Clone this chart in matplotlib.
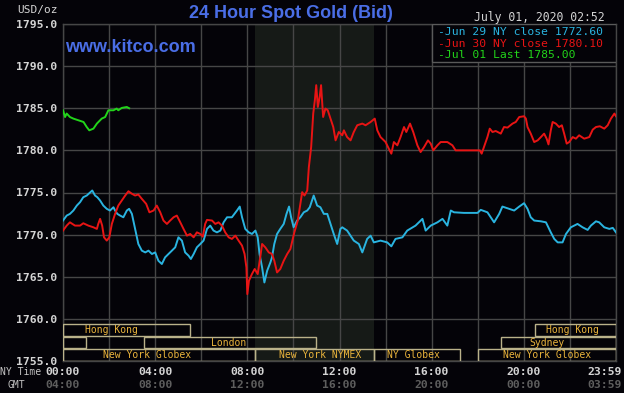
import matplotlib.pyplot as plt
from matplotlib.patches import Rectangle

# price data: (NY hour, USD/oz)
jun29 = [(0.00,1771.67),(0.16,1772.26),(0.30,1772.46),(0.45,1772.86),(0.60,1773.45),(0.74,1773.85),(0.88,1774.44),(1.03,1774.64),(1.27,1775.24),(1.39,1774.64),(1.49,1774.44),(1.61,1774.05),(1.75,1773.45),(1.90,1773.06),(2.04,1772.86),(2.19,1773.25),(2.26,1772.86),(2.36,1772.46),(2.48,1772.26),(2.62,1772.06),(2.77,1772.86),(2.87,1773.06),(2.99,1772.46),(3.13,1770.68),(3.27,1768.89),(3.42,1768.10),(3.57,1767.89),(3.71,1768.10),(3.86,1767.70),(4.00,1767.89),(4.14,1766.90),(4.29,1766.51),(4.43,1767.30),(4.58,1767.70),(4.73,1768.10),(4.87,1768.49),(5.01,1769.68),(5.16,1769.29),(5.30,1767.89),(5.45,1767.50),(5.55,1767.11),(5.67,1767.70),(5.81,1768.49),(5.96,1768.89),(6.10,1769.29),(6.25,1770.68),(6.39,1771.07),(6.53,1770.48),(6.68,1770.27),(6.83,1770.48),(6.97,1771.46),(7.12,1772.06),(7.33,1772.06),(7.55,1772.86),(7.67,1773.33),(7.77,1772.06),(7.91,1770.68),(8.06,1770.27),(8.20,1770.08),(8.35,1770.48),(8.45,1769.68),(8.53,1767.70),(8.64,1766.11),(8.74,1764.32),(8.86,1765.71),(9.00,1766.70),(9.07,1767.30),(9.17,1768.89),(9.29,1770.08),(9.43,1770.68),(9.58,1771.27),(9.70,1772.46),(9.81,1773.33),(9.90,1772.06),(10.01,1770.87),(10.16,1771.67),(10.30,1772.06),(10.45,1772.65),(10.60,1772.86),(10.71,1773.25),(10.88,1774.64),(11.03,1773.45),(11.17,1773.25),(11.32,1772.46),(11.47,1772.46),(11.61,1771.27),(11.75,1770.08),(11.90,1768.89),(12.04,1770.68),(12.12,1770.87),(12.33,1770.48),(12.62,1769.29),(12.84,1768.89),(12.99,1767.89),(13.20,1769.49),(13.35,1769.88),(13.49,1769.08),(13.78,1769.29),(14.07,1769.08),(14.25,1768.61),(14.43,1769.49),(14.73,1769.68),(14.94,1770.48),(15.30,1771.07),(15.60,1771.87),(15.74,1770.48),(15.96,1771.07),(16.25,1771.46),(16.47,1771.87),(16.68,1771.07),(16.83,1772.86),(16.97,1772.65),(17.40,1772.58),(17.99,1772.58),(18.13,1772.94),(18.42,1772.65),(18.71,1771.46),(18.93,1772.46),(19.07,1773.33),(19.36,1773.06),(19.58,1772.86),(19.80,1773.33),(20.01,1773.73),(20.16,1773.06),(20.30,1772.06),(20.45,1771.67),(20.74,1771.58),(20.96,1771.46),(21.17,1770.27),(21.32,1769.49),(21.47,1769.08),(21.68,1769.08),(21.83,1770.08),(22.04,1770.87),(22.33,1771.27),(22.55,1770.87),(22.77,1770.56),(22.91,1771.07),(23.13,1771.58),(23.27,1771.46),(23.49,1770.87),(23.71,1770.68),(23.86,1770.80),(24.00,1770.27)]

jun30 = [(0.00,1770.48),(0.16,1771.07),(0.30,1771.46),(0.52,1771.07),(0.74,1771.07),(0.88,1771.35),(1.10,1771.07),(1.32,1770.87),(1.47,1770.68),(1.53,1771.27),(1.61,1771.87),(1.70,1771.07),(1.78,1769.68),(1.90,1769.29),(2.01,1769.68),(2.12,1771.27),(2.26,1772.46),(2.40,1773.45),(2.55,1774.05),(2.70,1774.64),(2.84,1775.15),(2.99,1774.85),(3.13,1774.64),(3.27,1774.76),(3.42,1774.25),(3.61,1773.65),(3.75,1772.65),(3.93,1772.86),(4.07,1773.45),(4.22,1772.65),(4.36,1771.67),(4.51,1771.27),(4.65,1771.67),(4.80,1772.06),(4.94,1772.26),(5.09,1771.46),(5.23,1770.68),(5.38,1769.88),(5.52,1770.08),(5.67,1769.68),(5.81,1770.27),(5.96,1770.08),(6.07,1769.76),(6.17,1771.27),(6.25,1771.75),(6.47,1771.67),(6.61,1771.27),(6.75,1771.46),(6.90,1771.07),(7.04,1770.27),(7.19,1769.68),(7.33,1769.49),(7.48,1769.88),(7.62,1769.29),(7.77,1768.69),(7.88,1767.70),(7.96,1766.11),(8.00,1762.94),(8.07,1764.52),(8.20,1765.32),(8.32,1765.92),(8.45,1765.32),(8.57,1767.50),(8.64,1768.89),(8.78,1768.49),(8.93,1767.89),(9.07,1767.70),(9.17,1766.90),(9.29,1765.51),(9.43,1765.92),(9.58,1766.90),(9.73,1767.70),(9.87,1768.30),(10.04,1770.27),(10.19,1771.67),(10.30,1773.65),(10.38,1775.04),(10.48,1774.64),(10.60,1775.24),(10.67,1778.01),(10.77,1780.39),(10.86,1784.37),(10.93,1785.95),(10.99,1787.74),(11.06,1785.15),(11.14,1786.35),(11.20,1787.74),(11.29,1783.96),(11.39,1784.96),(11.49,1784.76),(11.61,1783.77),(11.73,1782.77),(11.83,1781.19),(11.97,1782.18),(12.12,1781.79),(12.19,1782.38),(12.33,1781.58),(12.48,1781.19),(12.62,1782.18),(12.77,1782.98),(12.99,1783.18),(13.13,1782.98),(13.35,1783.37),(13.53,1783.77),(13.64,1782.38),(13.78,1781.58),(14.00,1780.99),(14.14,1780.20),(14.25,1779.61),(14.36,1780.99),(14.51,1780.60),(14.65,1781.58),(14.80,1782.77),(14.90,1782.18),(15.06,1783.18),(15.20,1782.18),(15.38,1780.60),(15.52,1779.80),(15.67,1780.39),(15.84,1781.19),(15.96,1780.80),(16.07,1780.00),(16.25,1780.60),(16.39,1780.99),(16.68,1780.99),(16.90,1780.60),(17.04,1780.00),(17.55,1780.00),(18.09,1780.00),(18.17,1779.61),(18.32,1780.80),(18.42,1781.58),(18.52,1782.58),(18.64,1782.18),(18.78,1782.30),(19.00,1781.99),(19.14,1782.77),(19.29,1782.70),(19.51,1783.18),(19.65,1783.37),(19.80,1783.96),(20.01,1784.05),(20.09,1783.77),(20.16,1782.77),(20.30,1781.99),(20.45,1780.99),(20.60,1781.19),(20.74,1781.58),(20.88,1781.99),(20.99,1781.39),(21.07,1780.71),(21.17,1782.38),(21.25,1783.37),(21.39,1783.18),(21.53,1782.77),(21.65,1782.98),(21.75,1781.99),(21.86,1780.80),(21.97,1780.99),(22.12,1781.58),(22.26,1781.39),(22.40,1781.79),(22.62,1781.39),(22.84,1781.58),(22.99,1782.46),(23.13,1782.77),(23.30,1782.86),(23.49,1782.58),(23.64,1782.98),(23.78,1783.77),(23.93,1784.37),(24.00,1784.05)]

jul01 = [(0.00,1784.76),(0.09,1783.96),(0.16,1784.37),(0.30,1783.96),(0.45,1783.77),(0.67,1783.57),(0.89,1783.37),(1.03,1782.77),(1.14,1782.38),(1.32,1782.58),(1.47,1783.18),(1.68,1783.77),(1.83,1783.96),(1.97,1784.76),(2.19,1784.76),(2.33,1784.96),(2.40,1784.76),(2.55,1785.04),(2.77,1785.15),(2.87,1785.00)]

legend_labels = ["-Jun 29 NY close 1772.60", "-Jun 30 NY close 1780.10", "-Jul 01 Last 1785.00"]
series_colors = ["#2ab4e0", "#e81414", "#22d41a"]

y_ticks = [1755, 1760, 1765, 1770, 1775, 1780, 1785, 1790, 1795]
ny_labels = ["00:00", "04:00", "08:00", "12:00", "16:00", "20:00", "23:59"]
gmt_labels = ["04:00", "08:00", "12:00", "16:00", "20:00", "00:00", "03:59"]
label_hours = [0, 4, 8, 12, 16, 20, 23.5]

# trading sessions: (name, row, start, end, label hour)
sessions = [
    ("Hong Kong", 2, 0.0, 5.5, 2.1),
    ("Hong Kong", 2, 20.5, 24.0, 22.1),
    ("", 1, 0.0, 1.0, 0.5),
    ("London", 1, 3.5, 11.0, 7.2),
    ("Sydney", 1, 19.0, 24.0, 21.0),
    ("New York Globex", 0, 0.0, 8.33, 3.65),
    ("New York NYMEX", 0, 8.33, 13.5, 11.15),
    ("NY Globex", 0, 13.5, 17.25, 15.2),
    ("New York Globex", 0, 18.0, 24.0, 21.0),
]
nymex_open, nymex_close = 8.33, 13.5

bg = "#040308"
grid_c = "#464646"
mono = "DejaVu Sans Mono"

fig = plt.figure(figsize=(6.24, 3.93), dpi=100, facecolor=bg)
ax = fig.add_axes([63/624, 32/393, 553/624, 337/393], facecolor=bg)

ax.axvspan(nymex_open, nymex_close, color="#161a17", zorder=0, lw=0)

for pts, c in zip([jun29, jun30, jul01], series_colors):
    h, p = zip(*pts)
    ax.plot(h, p, color=c, lw=1.4, zorder=3)

ax.set_xlim(0, 24)
ax.set_ylim(1755, 1795)
ax.set_xticks(range(0, 25, 2))
ax.set_xticklabels([])
ax.set_yticks(y_ticks)
ax.set_yticklabels([f"{v:.1f}" for v in y_ticks], family=mono, fontsize=8.2,
                   fontweight="bold", color="#d4d4d4")
ax.tick_params(length=0, pad=4)
ax.grid(True, color=grid_c, lw=1)
ax.set_axisbelow(True)
for s in ax.spines.values():
    s.set_color(grid_c)
    s.set_linewidth(1)

# session boxes
row_h = 0.0365
for name, row, x0, x1, lx in sessions:
    ax.add_patch(Rectangle((x0, row * row_h + 0.001), x1 - x0, row_h - 0.002,
                           transform=ax.get_xaxis_transform(), fill=False,
                           edgecolor="#bab28a", lw=1, zorder=4))
    if name:
        ax.text(lx, row * row_h + row_h / 2, name, transform=ax.get_xaxis_transform(),
                ha="center", va="center", family=mono, fontsize=7, color="#eab43c", zorder=5)

# time labels
for hx, ny, gmt in zip(label_hours, ny_labels, gmt_labels):
    ax.text(hx, -0.033, ny, transform=ax.get_xaxis_transform(), ha="center", va="center",
            family=mono, fontsize=8.2, fontweight="bold", color="#d4d4d4")
    ax.text(hx, -0.071, gmt, transform=ax.get_xaxis_transform(), ha="center", va="center",
            family=mono, fontsize=8.2, fontweight="bold", color="#5e5e5e")
fig.text(0.0, 1 - 372/393, "NY Time", family=mono, fontsize=7, color="#c4c4c4", va="center")
fig.text(7/624, 1 - 385/393, "GMT", family=mono, fontsize=7, color="#c4c4c4", va="center")

# legend box
ax.add_patch(Rectangle((0.667, 0.887), 0.333, 0.113, transform=ax.transAxes,
                       facecolor=bg, edgecolor="#5a5a5a", lw=1, zorder=6))
for i, (lab, c) in enumerate(zip(legend_labels, series_colors)):
    ax.text(0.678, 0.976 - i * 0.034, lab, transform=ax.transAxes, va="center",
            family=mono, fontsize=8.2, color=c, zorder=7)

# header texts
fig.text(291/624, 1 - 13/393, "24 Hour Spot Gold (Bid)", family="Liberation Sans",
         fontweight="bold", fontsize=13, color="#4a6ee6", ha="center", va="center")
ax.text(0.004, 0.93, "www.kitco.com", transform=ax.transAxes, family="Liberation Sans",
        fontweight="bold", fontsize=13, color="#4a6ee6", va="center")
fig.text(17/624, 1 - 10/393, "USD/oz", family=mono, fontsize=8, color="#d4d4d4", va="center")
fig.text(605/624, 1 - 17/393, "July 01, 2020 02:52", family=mono, fontsize=8.3,
         color="#d4d4d4", ha="right", va="center")

fig.savefig("out.png", dpi=100, facecolor=bg)
